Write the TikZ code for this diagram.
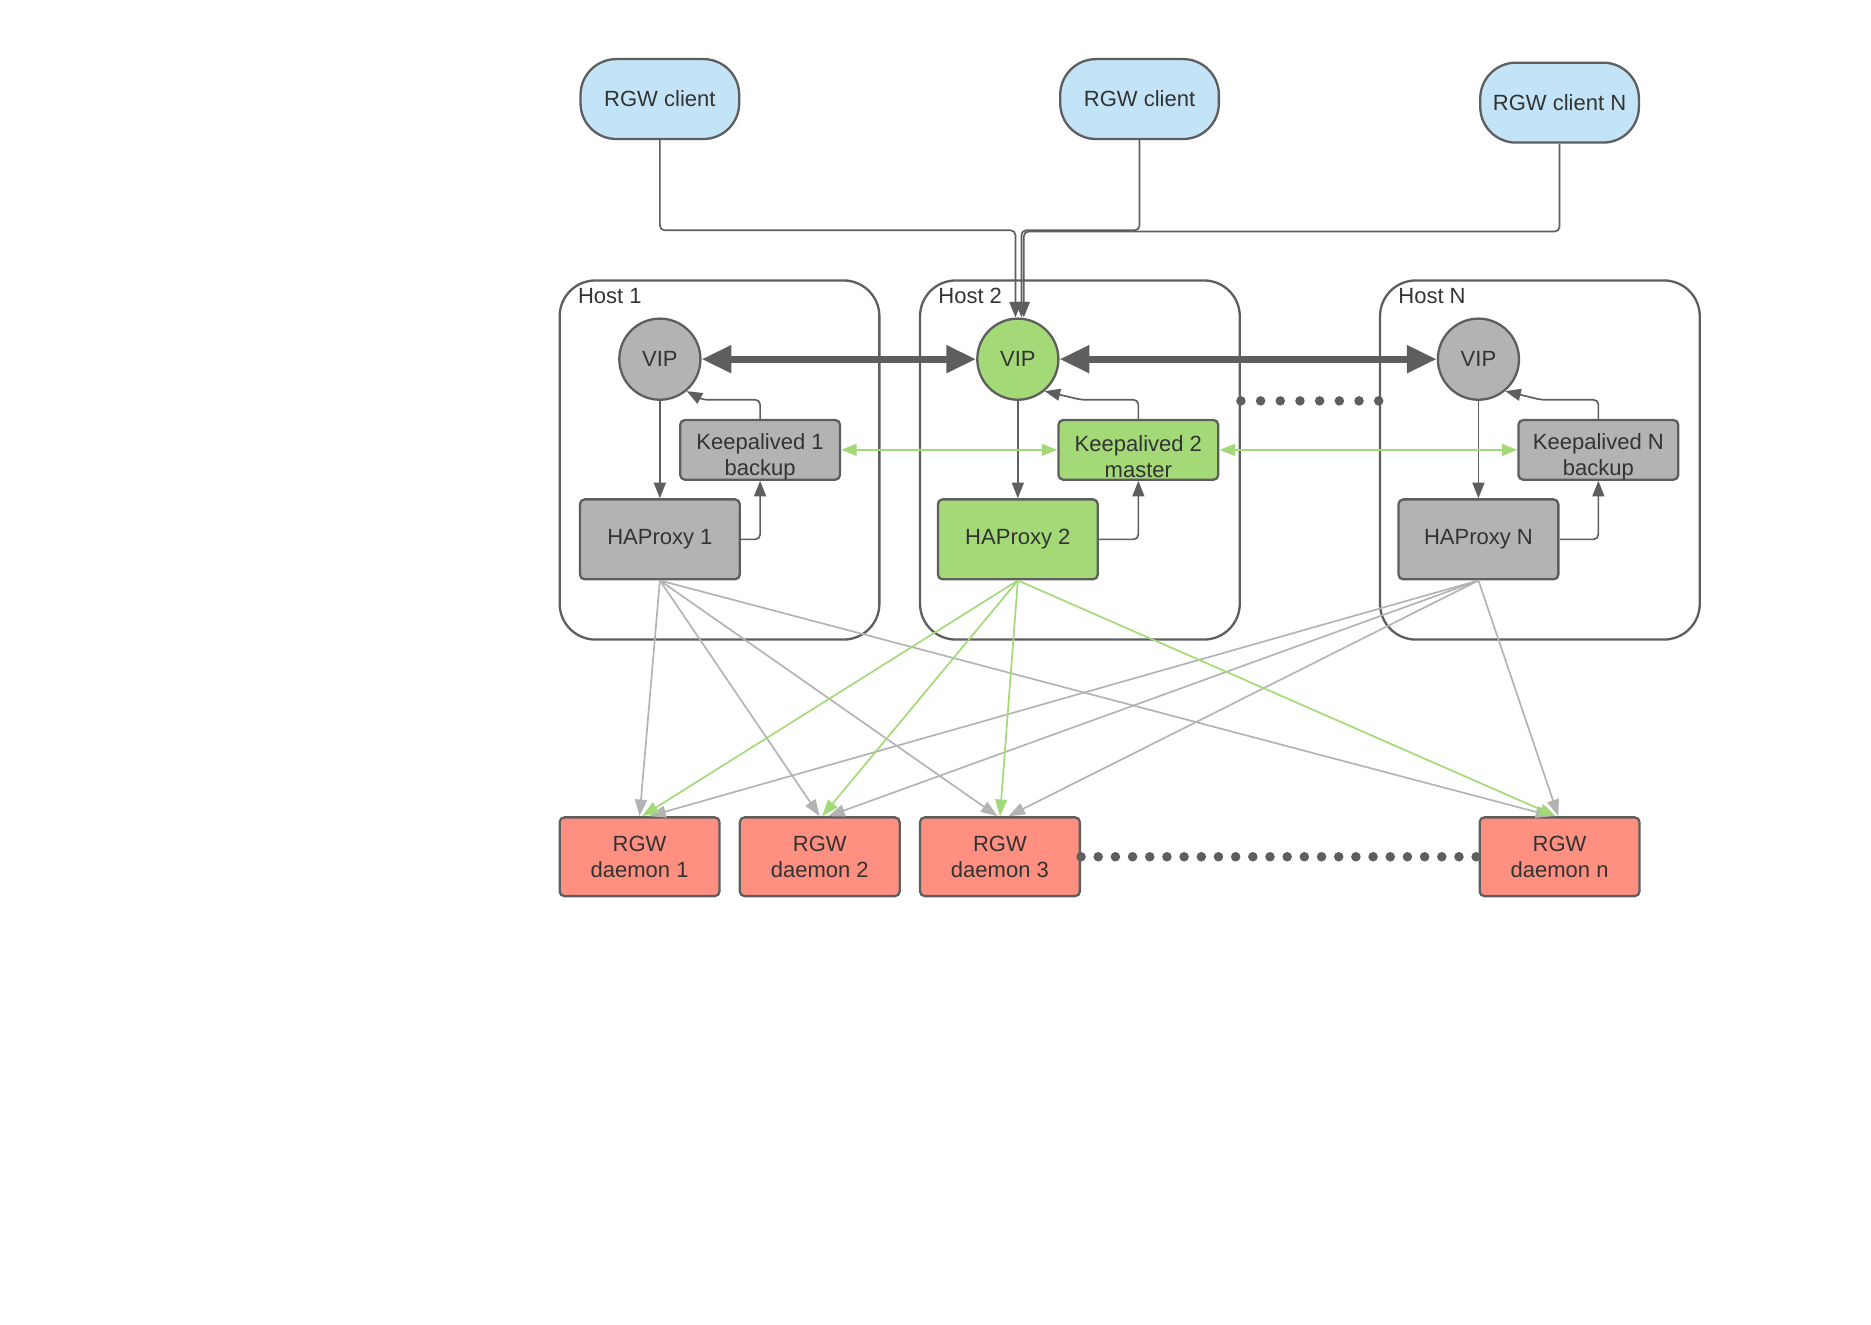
\documentclass[tikz,border=0pt]{standalone}
\usepackage{fontspec}
\setmainfont{Liberation Sans}
\usetikzlibrary{arrows.meta}
\definecolor{edge}{HTML}{5E5E5E}
\definecolor{txt}{HTML}{333333}
\definecolor{clientblue}{HTML}{C2E4F6}
\definecolor{nodegray}{HTML}{B3B3B3}
\definecolor{mastergreen}{HTML}{A3D977}
\definecolor{salmon}{HTML}{FF8F80}
\definecolor{linkgray}{HTML}{B3B3B3}
\tikzset{
  base/.style={draw=edge, line width=1.1pt, text=txt, font=\fontsize{10.5}{12.5}\selectfont, align=center, inner sep=0pt},
  client/.style={base, fill=clientblue, minimum width=2.66cm, minimum height=1.34cm, rounded corners=0.6cm},
  host/.style={draw=edge, line width=1.1pt, minimum width=5.36cm, minimum height=6.02cm, rounded corners=0.6cm},
  hostlabel/.style={text=txt, font=\fontsize{10.5}{12.5}\selectfont, inner sep=0pt, anchor=north west},
  vip/.style={base, circle, minimum size=1.36cm},
  box/.style={base, rectangle, rounded corners=0.08cm, minimum width=2.68cm, minimum height=1.34cm},
  kbox/.style={box, minimum height=1.0cm},
  ktext/.style={text=txt, font=\fontsize{10.5}{12.5}\selectfont, align=center, inner sep=0pt},
  daemon/.style={box, fill=salmon, minimum height=1.32cm},
  conn/.style={draw=edge, line width=0.8pt, rounded corners=0.08cm, -{Triangle[length=0.26cm,width=0.2cm]}},
  vipconn/.style={draw=edge, line width=3.4pt, {Triangle[length=0.5cm,width=0.44cm]}-{Triangle[length=0.5cm,width=0.44cm]}},
  kconn/.style={draw=mastergreen, line width=0.9pt, {Triangle[length=0.26cm,width=0.2cm]}-{Triangle[length=0.26cm,width=0.2cm]}},
  glink/.style={draw=linkgray, line width=0.8pt, -{Triangle[length=0.28cm,width=0.2cm]}},
  mlink/.style={draw=mastergreen, line width=0.8pt, -{Triangle[length=0.28cm,width=0.2cm]}},
  dots/.style={draw=edge, line width=0.16cm, line cap=round, dash pattern=on 0pt off #1},
  dots/.default=0.3cm
}
\begin{document}
\begin{tikzpicture}[x=0.02cm, y=-0.02cm]
\useasboundingbox (0,0) rectangle (1568,1110);
% Clients
\node[client] (c1) at (553,83) {RGW client};
\node[client] (c2) at (955,83) {RGW client};
\node[client] (cN) at (1307,86) {RGW client N};
% Hosts
\node[host] (host1) at (603,385.5) {};
\node[host] (host2) at (905,385.5) {};
\node[host] (hostN) at (1290.5,385.5) {};
\node[hostlabel] at ([xshift=0.32cm,yshift=-0.14cm]host1.north west) {Host 1};
\node[hostlabel] at ([xshift=0.32cm,yshift=-0.14cm]host2.north west) {Host 2};
\node[hostlabel] at ([xshift=0.32cm,yshift=-0.14cm]hostN.north west) {Host N};
% VIPs, keepalived, haproxy
\node[vip, fill=nodegray] (vip1) at (553,301) {VIP};
\node[vip, fill=mastergreen] (vip2) at (853,301) {VIP};
\node[vip, fill=nodegray] (vipN) at (1239,301) {VIP};
\node[kbox, fill=nodegray] (ka1) at (637,377) {};
\node[kbox, fill=mastergreen] (ka2) at (954,377) {};
\node[kbox, fill=nodegray] (kaN) at (1339.5,377) {};
\node[ktext] (ka1t) at (637,383) {Keepalived 1\\backup};
\node[ktext] (ka2t) at (954,383) {Keepalived 2\\master};
\node[ktext] (kaNt) at (1339.5,383) {Keepalived N\\backup};
\node[box, fill=nodegray] (hp1) at (553,452) {HAProxy 1};
\node[box, fill=mastergreen] (hp2) at (853,452) {HAProxy 2};
\node[box, fill=nodegray] (hpN) at (1239,452) {HAProxy N};
% RGW daemons
\node[daemon] (d1) at (536,718) {RGW\\daemon 1};
\node[daemon] (d2) at (687,718) {RGW\\daemon 2};
\node[daemon] (d3) at (838,718) {RGW\\daemon 3};
\node[daemon] (dn) at (1307,718) {RGW\\daemon n};
% Client links into the master VIP
\coordinate (j1) at (851,193);
\coordinate (j2) at (856,193);
\coordinate (jN) at (858,194);
\draw[conn] (c1.south) |- (j1) -- (j1 |- vip2.north);
\draw[conn] (c2.south) |- (j2) -- (j2 |- vip2.north);
\draw[conn] (cN.south) |- (jN) -- (jN |- vip2.north);
% Inside each host
\foreach \h in {1,2,N} {
  \draw[conn] (vip\h.south) -- (hp\h.north);
  \draw[conn] (ka\h.north) |- ++(-48,-16) -- (vip\h.-50);
  \draw[conn] (hp\h.east) -| (ka\h.south);
}
% VIP and keepalived peering
\draw[vipconn] (vip1) -- (vip2);
\draw[vipconn] (vip2) -- (vipN);
\draw[kconn] (ka1.east) -- (ka2.west);
\draw[kconn] (ka2.east) -- (kaN.west);
\draw[dots=0.33cm] (vip2.south -| host2.east) -- (vip2.south -| hostN.west);
\draw[dots=0.288cm] (d3.east) -- (dn.west);
% HAProxy to daemons
\foreach \d/\s in {d1/0,d2/0,d3/-2,dn/-6}
  \draw[glink] (hp1.south) -- ([xshift=\s*0.02cm]\d.north);
\foreach \d/\s in {d1/8,d2/7,d3/7,dn/-1}
  \draw[glink] (hpN.south) -- ([xshift=\s*0.02cm]\d.north);
\foreach \d/\s in {d1/2,d2/2,d3/0,dn/-3}
  \draw[mlink] (hp2.south) -- ([xshift=\s*0.02cm]\d.north);
\end{tikzpicture}
\end{document}
